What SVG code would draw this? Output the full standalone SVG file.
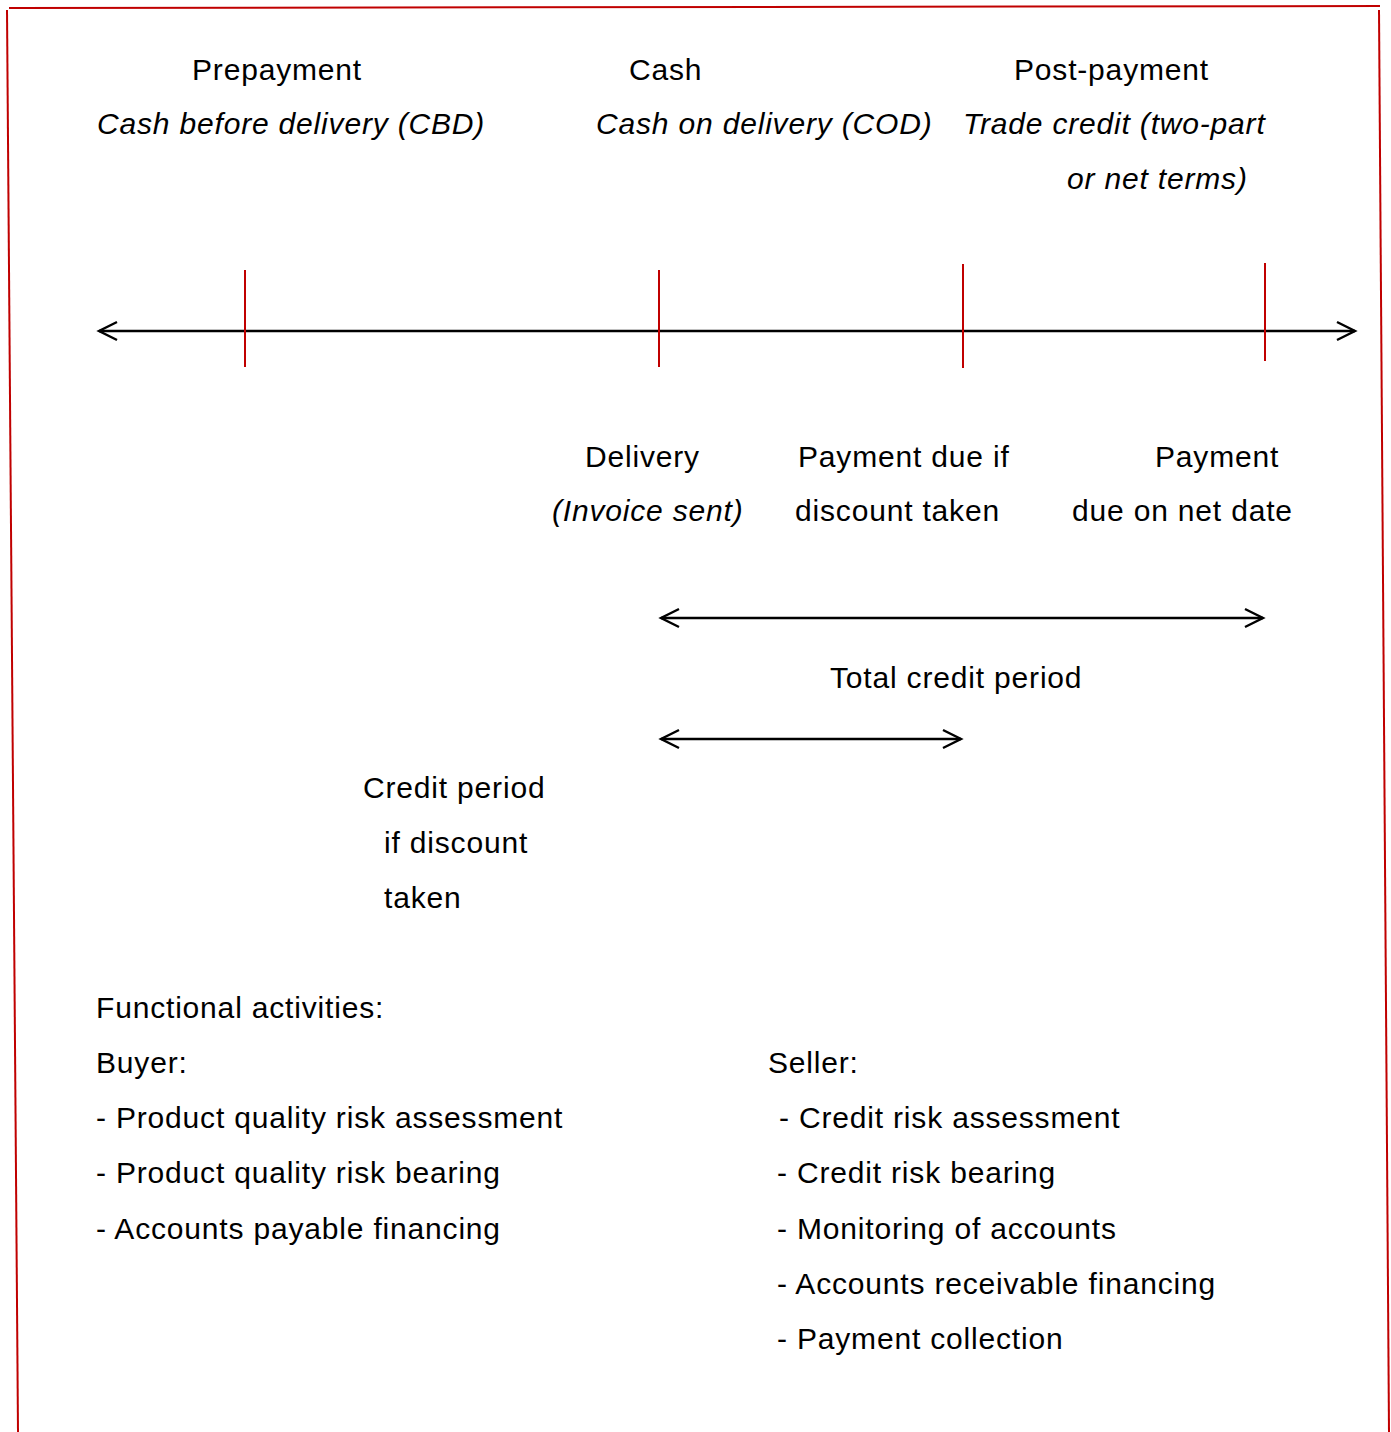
<svg xmlns="http://www.w3.org/2000/svg" width="1391" height="1432" viewBox="0 0 1391 1432">
<style>
text{font-family:"Liberation Sans",Arial,sans-serif;font-size:30px;letter-spacing:0.82px;fill:#000}
.i{font-style:italic}
.tick{stroke:#c00000;stroke-width:2;fill:none}
.border{stroke:#c00000;stroke-width:2;fill:none}
.ax{stroke:#000;stroke-width:2.4;fill:none;marker-start:url(#ah);marker-end:url(#ah)}
</style>
<defs>
<marker id="ah" markerUnits="userSpaceOnUse" markerWidth="24" markerHeight="24" viewBox="-20 -12 24 24" refX="0" refY="0" orient="auto-start-reverse">
<path d="M-18,-9 L0,0 L-18,9" fill="none" stroke="#000" stroke-width="2.4"/>
</marker>
</defs>
<rect width="1391" height="1432" fill="#fff"/>
<g id="border">
<path class="border" d="M9,8 L1380,6"/>
<path class="border" d="M7,10 L18,1432"/>
<path class="border" d="M1379,10 L1389,1432"/>
</g>
<g id="connectors">
<line class="ax" x1="99" y1="331" x2="1355" y2="331"/>
<line class="ax" x1="661" y1="618" x2="1263" y2="618"/>
<line class="ax" x1="661" y1="739" x2="961" y2="739"/>
<line class="tick" x1="245" y1="270" x2="245" y2="367"/>
<line class="tick" x1="659" y1="270" x2="659" y2="367"/>
<line class="tick" x1="963" y1="264" x2="963" y2="368"/>
<line class="tick" x1="1265" y1="263" x2="1265" y2="361"/>
</g>
<g id="prepayment">
<text x="192" y="80">Prepayment</text>
<text class="i" x="97" y="134">Cash before delivery (CBD)</text>
</g>
<g id="cash">
<text x="629" y="80">Cash</text>
<text class="i" x="596" y="134">Cash on delivery (COD)</text>
</g>
<g id="postpayment">
<text x="1014" y="80">Post-payment</text>
<text class="i" x="963" y="134">Trade credit (two-part</text>
<text class="i" x="1067" y="189">or net terms)</text>
</g>
<g id="delivery">
<text x="585" y="467">Delivery</text>
<text class="i" x="552" y="521">(Invoice sent)</text>
</g>
<g id="payment-discount">
<text x="798" y="467">Payment due if</text>
<text x="795" y="521">discount taken</text>
</g>
<g id="payment-net">
<text x="1155" y="467">Payment</text>
<text x="1072" y="521">due on net date</text>
</g>
<g id="total-credit">
<text x="830" y="688">Total credit period</text>
</g>
<g id="credit-discount">
<text x="363" y="798">Credit period</text>
<text x="384" y="853">if discount</text>
<text x="384" y="908">taken</text>
</g>
<g id="activities">
<text x="96" y="1018">Functional activities:</text>
<text x="96" y="1073">Buyer:</text>
<text x="96" y="1128">- Product quality risk assessment</text>
<text x="96" y="1183">- Product quality risk bearing</text>
<text x="96" y="1239">- Accounts payable financing</text>
<text x="768" y="1073">Seller:</text>
<text x="779" y="1128">- Credit risk assessment</text>
<text x="777" y="1183">- Credit risk bearing</text>
<text x="777" y="1239">- Monitoring of accounts</text>
<text x="777" y="1294">- Accounts receivable financing</text>
<text x="777" y="1349">- Payment collection</text>
</g>
</svg>
